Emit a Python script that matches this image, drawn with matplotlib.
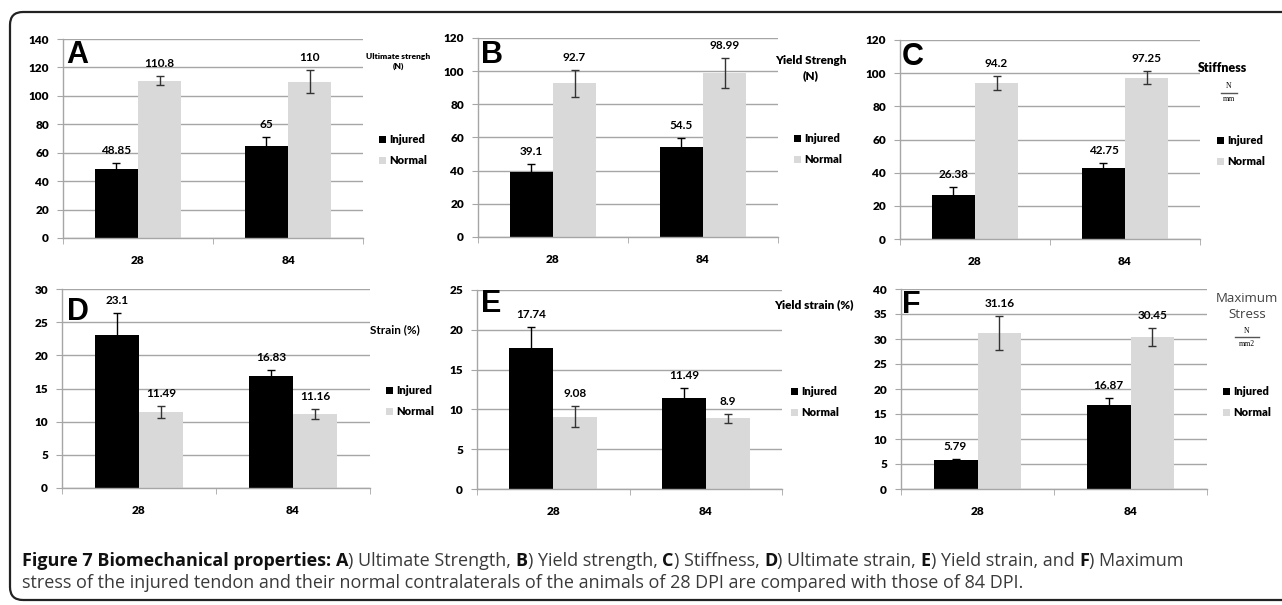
import matplotlib
matplotlib.use("Agg")
import matplotlib.pyplot as plt
from matplotlib.patches import Patch, FancyBboxPatch
from matplotlib.transforms import IdentityTransform
import numpy as np

W, H = 1282, 605
DPI = 100

categories = ["28", "84"]
series_names = ["Injured", "Normal"]

# Panel A: Ultimate strength (N)
a_injured = [48.85, 65]
a_normal = [110.8, 110]
a_injured_err = [4, 6]
a_normal_err = [3.3, 8]
a_labels_inj = ["48.85", "65"]
a_labels_nor = ["110.8", "110"]

# Panel B: Yield strength (N)
b_injured = [39.1, 54.5]
b_normal = [92.7, 98.99]
b_injured_err = [4.8, 5.4]
b_normal_err = [8, 9.2]
b_labels_inj = ["39.1", "54.5"]
b_labels_nor = ["92.7", "98.99"]

# Panel C: Stiffness (N/mm)
c_injured = [26.38, 42.75]
c_normal = [94.2, 97.25]
c_injured_err = [4.8, 3.1]
c_normal_err = [4.3, 4]
c_labels_inj = ["26.38", "42.75"]
c_labels_nor = ["94.2", "97.25"]

# Panel D: Strain (%)
d_injured = [23.1, 16.83]
d_normal = [11.49, 11.16]
d_injured_err = [3.3, 0.9]
d_normal_err = [0.9, 0.7]
d_labels_inj = ["23.1", "16.83"]
d_labels_nor = ["11.49", "11.16"]

# Panel E: Yield strain (%)
e_injured = [17.74, 11.49]
e_normal = [9.08, 8.9]
e_injured_err = [2.6, 1.26]
e_normal_err = [1.35, 0.55]
e_labels_inj = ["17.74", "11.49"]
e_labels_nor = ["9.08", "8.9"]

# Panel F: Maximum stress (N/mm2)
f_injured = [5.79, 16.87]
f_normal = [31.16, 30.45]
f_injured_err = [0.3, 1.3]
f_normal_err = [3.4, 1.85]
f_labels_inj = ["5.79", "16.87"]
f_labels_nor = ["31.16", "30.45"]

y_max = [140, 120, 120, 30, 25, 40]
y_step = [20, 20, 20, 5, 5, 5]
panel_letters = ["A", "B", "C", "D", "E", "F"]

INJ_COLOR = "#000000"
NOR_COLOR = "#d9d9d9"
GRID = "#a6a6a6"
TICKFONT = "Lato"

fig = plt.figure(figsize=(W / DPI, H / DPI), dpi=DPI)
fig.patch.set_facecolor("white")


def fx(x):
    return x / W


def fy(y):
    return 1 - y / H


# Frame
frame = FancyBboxPatch((10, 5), 1300, 588, boxstyle="round,pad=0,rounding_size=13",
                       transform=IdentityTransform(), fill=False, lw=1.6,
                       edgecolor="#222222")
fig.patches.append(frame)

# axes rectangles (left, right, top, bottom) in pixels
rects = [
    (63, 363, 39, 238),
    (478, 778, 38, 237),
    (900, 1200, 40, 239),
    (62, 370, 289, 488),
    (477, 782, 290, 489),
    (901, 1207, 289, 489),
]
panels = [
    (a_injured, a_normal, a_injured_err, a_normal_err, a_labels_inj, a_labels_nor),
    (b_injured, b_normal, b_injured_err, b_normal_err, b_labels_inj, b_labels_nor),
    (c_injured, c_normal, c_injured_err, c_normal_err, c_labels_inj, c_labels_nor),
    (d_injured, d_normal, d_injured_err, d_normal_err, d_labels_inj, d_labels_nor),
    (e_injured, e_normal, e_injured_err, e_normal_err, e_labels_inj, e_labels_nor),
    (f_injured, f_normal, f_injured_err, f_normal_err, f_labels_inj, f_labels_nor),
]
letter_pos = [(66, 55), (481, 55), (902, 57), (67, 312), (481, 304), (902, 305)]
legend_pos = [(382, 140), (797, 139), (1220, 141), (389, 391), (794, 392), (1226, 392)]

bw = 0.287
x = np.arange(len(categories))

for i, (rect, data) in enumerate(zip(rects, panels)):
    l, r, t, b = rect
    ax = fig.add_axes([fx(l), fy(b), (r - l) / W, (b - t) / H])
    inj, nor, inj_e, nor_e, lab_i, lab_n = data
    ax.set_xlim(-0.5, 1.5)
    ax.set_ylim(0, y_max[i])
    ax.set_yticks(np.arange(0, y_max[i] + 0.01, y_step[i]))
    ax.yaxis.grid(True, color=GRID, lw=1)
    ax.set_axisbelow(True)
    for s in ["top", "right"]:
        ax.spines[s].set_visible(False)
    for s in ["left", "bottom"]:
        ax.spines[s].set_color(GRID)
        ax.spines[s].set_linewidth(1)
    ax.bar(x - bw / 2, inj, bw, color=INJ_COLOR, zorder=2)
    ax.bar(x + bw / 2, nor, bw, color=NOR_COLOR, zorder=2)
    ax.errorbar(x - bw / 2, inj, yerr=inj_e, fmt="none", ecolor="#000000",
                elinewidth=1, capsize=3, capthick=1, zorder=3)
    ax.errorbar(x + bw / 2, nor, yerr=nor_e, fmt="none", ecolor="#333333",
                elinewidth=1, capsize=3, capthick=1, zorder=3)
    for xi, v, e, s in zip(x - bw / 2, inj, inj_e, lab_i):
        ax.annotate(s, (xi, v + e), xytext=(0, 5), textcoords="offset points",
                    ha="center", va="bottom", fontsize=8.5, fontweight="bold",
                    family=TICKFONT)
    for xi, v, e, s in zip(x + bw / 2, nor, nor_e, lab_n):
        ax.annotate(s, (xi, v + e), xytext=(0, 5), textcoords="offset points",
                    ha="center", va="bottom", fontsize=8.5, fontweight="bold",
                    family=TICKFONT)
    ax.set_xticks(x)
    ax.set_xticklabels(categories)
    ax.set_xticks([-0.5, 0.5, 1.5], minor=True)
    ax.tick_params(axis="x", which="major", length=0, pad=12)
    ax.tick_params(axis="x", which="minor", length=4, color=GRID)
    ax.tick_params(axis="y", length=4, color=GRID, pad=6)
    for lbl in ax.get_xticklabels() + ax.get_yticklabels():
        lbl.set_fontfamily(TICKFONT)
        lbl.set_fontweight("heavy")
        lbl.set_fontsize(8.5)
    lx, ly = letter_pos[i]
    fig.text(fx(lx), fy(ly), panel_letters[i], fontsize=22, fontweight="bold",
             family="Liberation Sans", ha="left", va="center")
    gx, gy = legend_pos[i]
    handles = [Patch(facecolor=INJ_COLOR, edgecolor="none"),
               Patch(facecolor=NOR_COLOR, edgecolor="none")]
    leg = fig.legend(handles, series_names, loc="upper left",
                     bbox_to_anchor=(fx(gx - 3), fy(gy - 6)), frameon=False,
                     handlelength=0.6, handleheight=0.6, handletextpad=0.3,
                     labelspacing=0.9, borderaxespad=0, borderpad=0,
                     prop={"family": TICKFONT, "weight": "heavy", "size": 8})

# unit labels
fig.text(fx(398), fy(57), "Ultimate strengh", fontsize=6, fontweight="heavy",
         family=TICKFONT, ha="center", va="center")
fig.text(fx(398), fy(66), "(N)", fontsize=6, fontweight="heavy",
         family=TICKFONT, ha="center", va="center")
fig.text(fx(811), fy(60), "Yield Strengh", fontsize=8.5, fontweight="heavy",
         family=TICKFONT, ha="center", va="center")
fig.text(fx(811), fy(76), "(N)", fontsize=8.5, fontweight="heavy",
         family=TICKFONT, ha="center", va="center")
fig.text(fx(1222), fy(68), "Stiffness", fontsize=9, fontweight="heavy",
         family=TICKFONT, ha="center", va="center")
fig.text(fx(1229), fy(86), "N", fontsize=5.5, family="Liberation Serif",
         ha="center", va="center")
fig.lines.append(plt.Line2D([fx(1221), fx(1237)], [fy(92.5), fy(92.5)],
                            transform=fig.transFigure, color="#555555", lw=1))
fig.text(fx(1229), fy(99), "mm", fontsize=5.5, family="Liberation Serif",
         ha="center", va="center")
fig.text(fx(395), fy(330), "Strain (%)", fontsize=8.5, fontweight="bold",
         family=TICKFONT, ha="center", va="center")
fig.text(fx(814), fy(305), "Yield strain (%)", fontsize=8.5, fontweight="heavy",
         family=TICKFONT, ha="center", va="center")
fig.text(fx(1247), fy(299), "Maximum", fontsize=9.5, family="Open Sans",
         color="#404040", ha="center", va="center")
fig.text(fx(1247), fy(315), "Stress", fontsize=9.5, family="Open Sans",
         color="#404040", ha="center", va="center")
fig.text(fx(1247), fy(331), "N", fontsize=5.5, family="Liberation Serif",
         ha="center", va="center")
fig.lines.append(plt.Line2D([fx(1235), fx(1259)], [fy(337), fy(337)],
                            transform=fig.transFigure, color="#555555", lw=1))
fig.text(fx(1247), fy(344), "mm2", fontsize=5.5, family="Liberation Serif",
         ha="center", va="center")

# caption
caption_line1 = [
    ("Figure 7 Biomechanical properties: ", True), ("A", True),
    (") Ultimate Strength, ", False), ("B", True), (") Yield strength, ", False),
    ("C", True), (") Stiffness, ", False), ("D", True), (") Ultimate strain, ", False),
    ("E", True), (") Yield strain, and ", False), ("F", True), (") Maximum", False),
]
caption_line2 = ("stress of the injured tendon and their normal contralaterals of the "
                 "animals of 28 DPI are compared with those of 84 DPI.")
CAP_SIZE = 13
fig.canvas.draw()
renderer = fig.canvas.get_renderer()
cx = 22
for txt, bold in caption_line1:
    t = fig.text(fx(cx), fy(561), txt, fontsize=CAP_SIZE, family="Open Sans",
                 fontweight="bold" if bold else "normal",
                 color="#111111" if bold else "#3a3a3a", ha="left", va="center")
    bb = t.get_window_extent(renderer=renderer)
    cx += bb.width
fig.text(fx(22), fy(583), caption_line2, fontsize=CAP_SIZE, family="Open Sans",
         color="#3a3a3a", ha="left", va="center")

fig.savefig("out.png", dpi=DPI)
